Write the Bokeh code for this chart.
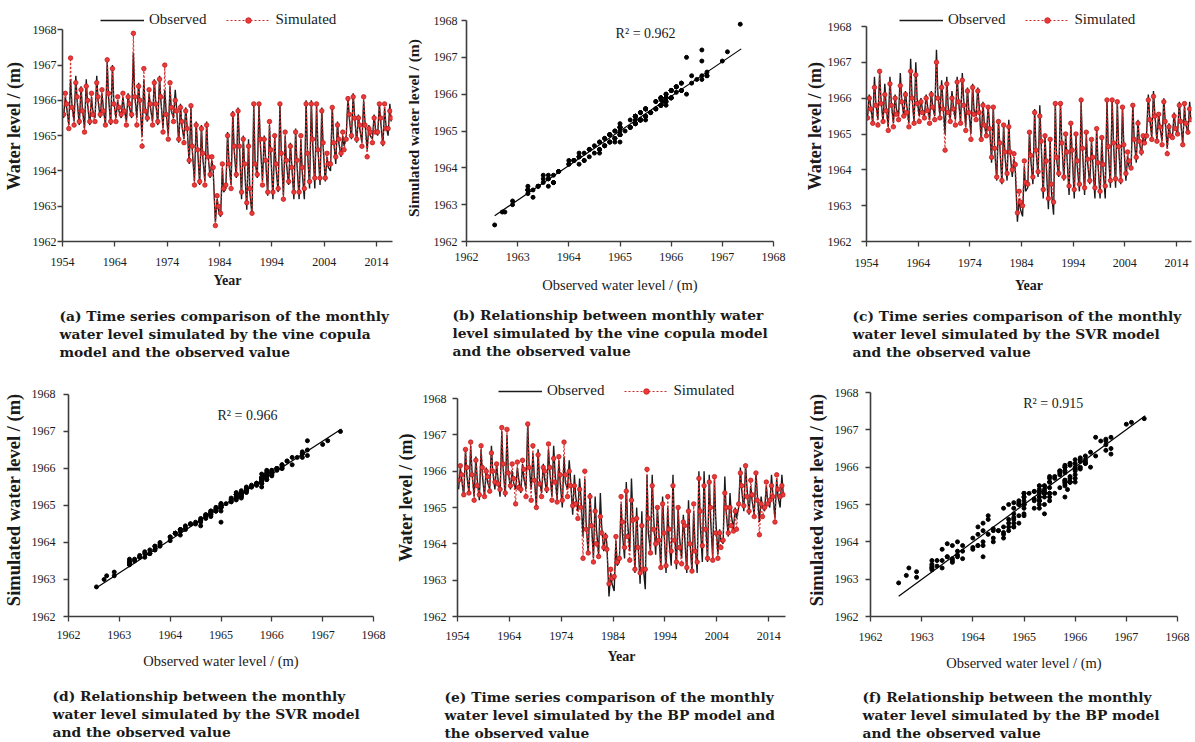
from bokeh.plotting import figure
from bokeh.layouts import row, column
from bokeh.models import Range1d, FixedTicker, Title, Label, Legend, LegendItem, ColumnDataSource
from bokeh.embed import file_html
from bokeh.resources import INLINE

# ---------------- data ----------------
years = list(range(1954, 2017))
sample_months = [3, 7, 10]          # low-water, high-water, late-season sample of each year

obs_low = [1965.5, 1965.3, 1965.4, 1965.3, 1965.2, 1965.3, 1965.5, 1965.5, 1965.3, 1965.3,
           1965.5, 1965.5, 1965.4, 1965.5, 1965.5, 1965.0, 1965.4, 1965.4, 1965.3, 1965.2,
           1965.0, 1965.5, 1964.8, 1964.9, 1964.2, 1963.7, 1963.6, 1963.7, 1963.8, 1962.55,
           1962.7, 1963.5, 1963.6, 1963.8, 1963.2, 1962.9, 1962.75, 1963.8, 1963.7, 1963.3,
           1963.2, 1963.4, 1963.3, 1963.6, 1963.2, 1963.2, 1963.2, 1963.5, 1963.5, 1963.6,
           1963.7, 1964.0, 1964.2, 1964.4, 1965.0, 1964.9, 1964.8, 1964.8, 1964.6, 1964.9,
           1965.0, 1964.7, 1965.0]
obs_high = [1966.1, 1966.6, 1966.7, 1966.4, 1966.6, 1966.1, 1966.7, 1966.2, 1967.1, 1967.0,
            1966.0, 1966.1, 1966.2, 1967.35, 1966.5, 1966.6, 1966.2, 1966.6, 1966.7, 1966.3,
            1966.4, 1966.3, 1965.9, 1965.8, 1965.8, 1965.4, 1965.3, 1965.4, 1964.3, 1963.2,
            1964.1, 1965.1, 1965.7, 1965.8, 1965.0, 1964.9, 1965.9, 1965.9, 1965.0, 1965.3,
            1965.0, 1965.9, 1965.0, 1964.8, 1965.2, 1964.9, 1966.0, 1966.0, 1965.9, 1965.8,
            1964.4, 1965.85, 1965.4, 1965.0, 1966.1, 1966.2, 1965.6, 1966.0, 1965.3, 1965.6,
            1965.9, 1965.8, 1965.9]
obs_mid = [1965.8, 1965.9, 1966.0, 1965.8, 1965.9, 1965.7, 1966.0, 1965.8, 1966.1, 1966.0,
           1965.7, 1965.8, 1965.8, 1966.2, 1965.9, 1965.8, 1965.8, 1966.0, 1966.0, 1965.7,
           1965.7, 1965.8, 1965.3, 1965.3, 1964.6, 1964.7, 1964.4, 1964.5, 1964.0, 1962.9,
           1963.4, 1964.3, 1964.6, 1964.8, 1964.1, 1963.4, 1964.3, 1964.8, 1964.4, 1964.5,
           1964.1, 1964.6, 1964.2, 1964.2, 1964.2, 1964.0, 1964.6, 1964.8, 1964.7, 1964.7,
           1964.1, 1964.9, 1964.8, 1964.7, 1965.5, 1965.6, 1965.2, 1965.4, 1965.0, 1965.2,
           1965.4, 1965.3, 1965.4]

vine_low = [1965.6, 1965.2, 1965.3, 1965.4, 1965.1, 1965.4, 1965.4, 1965.6, 1965.3, 1965.4,
            1965.4, 1965.6, 1965.3, 1965.6, 1965.3, 1964.7, 1965.5, 1965.3, 1965.4, 1965.1,
            1964.9, 1965.4, 1964.9, 1964.8, 1964.3, 1963.6, 1963.7, 1963.6, 1963.9, 1962.45,
            1962.8, 1963.6, 1963.5, 1963.9, 1963.4, 1963.1, 1962.8, 1963.9, 1963.6, 1963.4,
            1963.4, 1963.5, 1963.2, 1963.7, 1963.4, 1963.4, 1963.5, 1963.7, 1963.8, 1963.8,
            1963.8, 1964.2, 1964.4, 1964.5, 1964.9, 1965.0, 1964.9, 1964.7, 1964.4, 1964.8,
            1965.1, 1964.8, 1965.2]
vine_high = [1966.2, 1967.2, 1966.5, 1966.3, 1966.4, 1966.2, 1966.5, 1966.3, 1967.15, 1966.9,
             1966.1, 1966.2, 1966.1, 1967.9, 1966.4, 1966.9, 1966.3, 1966.5, 1966.6, 1967.0,
             1966.5, 1966.0, 1965.8, 1965.7, 1965.85, 1965.3, 1965.2, 1965.3, 1964.4, 1963.3,
             1964.2, 1965.0, 1965.6, 1965.7, 1964.9, 1964.7, 1965.9, 1965.9, 1964.9, 1965.4,
             1965.0, 1965.9, 1965.1, 1964.7, 1965.1, 1965.0, 1965.9, 1965.9, 1965.9, 1965.7,
             1964.5, 1965.8, 1965.3, 1965.1, 1966.05, 1966.1, 1965.5, 1966.1, 1965.2, 1965.5,
             1965.9, 1965.9, 1965.7]
vine_mid = [1965.9, 1965.8, 1966.1, 1965.7, 1966.0, 1965.6, 1966.1, 1965.7, 1966.2, 1965.9,
            1965.8, 1965.7, 1965.9, 1966.1, 1966.0, 1965.7, 1965.9, 1965.9, 1966.1, 1965.6,
            1965.8, 1965.7, 1965.4, 1965.2, 1964.7, 1964.6, 1964.5, 1964.4, 1964.1, 1963.0,
            1963.5, 1964.2, 1964.7, 1964.7, 1964.2, 1963.5, 1964.2, 1964.9, 1964.3, 1964.6,
            1964.2, 1964.5, 1964.3, 1964.1, 1964.3, 1964.1, 1964.5, 1964.9, 1964.6, 1964.8,
            1964.2, 1964.8, 1964.9, 1964.6, 1965.6, 1965.5, 1965.3, 1965.3, 1965.1, 1965.1,
            1965.5, 1965.2, 1965.5]

svr_low = [1965.45, 1965.3, 1965.25, 1965.35, 1965.1, 1965.2, 1965.4, 1965.5, 1965.2, 1965.3,
           1965.35, 1965.45, 1965.3, 1965.4, 1965.45, 1964.55, 1965.35, 1965.25, 1965.3, 1965.1,
           1964.85, 1965.4, 1964.85, 1964.95, 1964.35, 1963.8, 1963.7, 1963.9, 1964.0, 1962.8,
           1963.0, 1963.6, 1963.8, 1963.95, 1963.45, 1963.2, 1963.1, 1963.9, 1963.8, 1963.55,
           1963.45, 1963.6, 1963.5, 1963.7, 1963.5, 1963.4, 1963.55, 1963.7, 1963.75, 1963.7,
           1963.9, 1964.05, 1964.35, 1964.5, 1964.95, 1964.85, 1964.8, 1964.7, 1964.45, 1964.9,
           1965.0, 1964.7, 1965.05]
svr_high = [1966.0, 1966.3, 1966.75, 1966.1, 1966.4, 1966.0, 1966.35, 1966.1, 1966.75, 1966.65,
            1965.9, 1966.0, 1966.1, 1967.0, 1966.3, 1966.4, 1966.0, 1966.45, 1966.5, 1966.2,
            1966.3, 1966.2, 1965.8, 1965.75, 1965.75, 1965.35, 1965.25, 1965.2, 1964.45, 1963.4,
            1964.25, 1965.05, 1965.6, 1965.5, 1964.95, 1964.85, 1965.85, 1965.85, 1965.0, 1965.3,
            1965.0, 1965.95, 1965.05, 1964.85, 1965.15, 1964.9, 1965.95, 1965.95, 1965.9, 1965.75,
            1964.5, 1965.8, 1965.3, 1964.95, 1965.95, 1966.05, 1965.55, 1965.9, 1965.2, 1965.5,
            1965.8, 1965.85, 1965.7]
svr_mid = [1965.7, 1965.8, 1965.85, 1965.65, 1965.8, 1965.55, 1965.9, 1965.6, 1966.0, 1965.85,
           1965.6, 1965.65, 1965.75, 1966.0, 1965.7, 1965.6, 1965.7, 1965.9, 1965.8, 1965.6,
           1965.55, 1965.6, 1965.25, 1965.15, 1964.6, 1964.75, 1964.5, 1964.5, 1964.15, 1963.1,
           1963.65, 1964.4, 1964.55, 1964.8, 1964.25, 1963.6, 1964.35, 1964.75, 1964.5, 1964.55,
           1964.25, 1964.6, 1964.3, 1964.35, 1964.2, 1964.15, 1964.65, 1964.75, 1964.65, 1964.7,
           1964.25, 1964.85, 1964.8, 1964.75, 1965.4, 1965.5, 1965.2, 1965.35, 1964.95, 1965.15,
           1965.35, 1965.3, 1965.4]

bp_low = [1965.75, 1965.35, 1965.4, 1965.2, 1965.35, 1965.3, 1965.45, 1965.7, 1965.5, 1965.4,
          1965.6, 1965.1, 1965.5, 1965.3, 1965.2, 1965.0, 1965.3, 1965.5, 1965.2, 1965.15,
          1965.2, 1965.3, 1965.05, 1964.7, 1963.6, 1963.75, 1963.5, 1963.65, 1963.9, 1962.9,
          1963.1, 1963.6, 1963.9, 1963.55, 1963.3, 1963.2, 1963.3, 1963.75, 1964.0, 1963.35,
          1963.4, 1963.8, 1963.5, 1963.45, 1963.35, 1963.25, 1963.5, 1963.95, 1963.6, 1963.55,
          1963.6, 1964.1, 1964.3, 1964.35, 1965.1, 1965.05, 1964.9, 1964.75, 1964.25, 1965.0,
          1965.2, 1964.6, 1965.3]
bp_high = [1966.15, 1966.6, 1966.8, 1966.3, 1966.7, 1966.0, 1966.5, 1966.2, 1967.2, 1967.15,
           1966.2, 1966.25, 1966.3, 1967.3, 1966.7, 1966.45, 1966.1, 1966.75, 1966.35, 1966.4,
           1966.8, 1966.0, 1965.6, 1965.5, 1966.0, 1965.3, 1964.9, 1964.75, 1964.2, 1963.3,
           1964.2, 1965.3, 1965.45, 1965.2, 1964.7, 1964.5, 1966.05, 1965.6, 1965.0, 1965.1,
           1965.3, 1965.6, 1965.0, 1964.6, 1964.9, 1965.1, 1965.8, 1965.6, 1965.7, 1965.85,
           1964.3, 1965.4, 1965.0, 1964.9, 1965.95, 1966.15, 1965.75, 1965.95, 1965.1, 1965.7,
           1965.6, 1965.9, 1965.6]
bp_mid = [1965.9, 1966.1, 1965.9, 1965.6, 1966.1, 1965.85, 1966.0, 1965.65, 1966.2, 1965.95,
          1965.8, 1965.55, 1966.05, 1966.1, 1965.75, 1965.65, 1966.0, 1966.1, 1965.7, 1965.9,
          1965.9, 1965.6, 1965.1, 1965.0, 1964.4, 1964.5, 1964.0, 1964.3, 1963.85, 1963.05,
          1963.5, 1964.6, 1964.2, 1964.65, 1963.9, 1963.3, 1964.7, 1964.4, 1964.1, 1964.3,
          1964.4, 1964.1, 1963.9, 1964.5, 1964.0, 1963.8, 1964.9, 1964.4, 1965.0, 1964.3,
          1963.9, 1965.0, 1964.5, 1964.4, 1965.6, 1965.3, 1965.35, 1965.2, 1964.75, 1965.1,
          1965.3, 1965.5, 1965.35]

# fitted regression lines
trend_x = [1962.55, 1967.37]
vine_trend_y = [1962.70, 1967.23]
svr_trend_y = [1962.78, 1967.07]
bp_trend_y = [1962.54, 1967.38]

r2_labels = ["R\u00b2 = 0.962", "R\u00b2 = 0.966", "R\u00b2 = 0.915"]

year_ticks = [1954, 1964, 1974, 1984, 1994, 2004, 2014]
level_ticks = [1962, 1963, 1964, 1965, 1966, 1967, 1968]

captions = {
    "a": ["(a) Time series comparison of the monthly",
          "water level simulated by the vine copula",
          "model and the observed value"],
    "b": ["(b) Relationship between monthly water",
          "level simulated by the vine copula model",
          "and the observed value"],
    "c": ["(c) Time series comparison of the monthly",
          "water level simulated by the SVR model",
          "and the observed value"],
    "d": ["(d) Relationship between the monthly",
          "water level simulated by the SVR model",
          "and the observed value"],
    "e": ["(e) Time series comparison of the monthly",
          "water level simulated by the BP model and",
          "the observed value"],
    "f": ["(f) Relationship between the monthly",
          "water level simulated by the BP model",
          "and the observed value"],
}


def interleave(low, high, mid):
    out = []
    for a, b, c in zip(low, high, mid):
        out += [a, b, c]
    return out


t = [y + (m - 0.5) / 12.0 for y in years for m in sample_months]
obs = interleave(obs_low, obs_high, obs_mid)
vine = interleave(vine_low, vine_high, vine_mid)
svr = interleave(svr_low, svr_high, svr_mid)
bp = interleave(bp_low, bp_high, bp_mid)

SERIF = "Liberation Serif"
CAPF = "DejaVu Serif"
INK = "#1a1a1a"
AX = "#3c3c3c"
RED = "#d42a2a"


def base_fig(w, h, bl, br, bt, bb, xr, yr):
    p = figure(width=w, height=h, output_backend="svg", toolbar_location=None,
               x_range=Range1d(*xr), y_range=Range1d(*yr),
               min_border_left=bl, min_border_right=br, min_border_top=bt, min_border_bottom=bb)
    p.outline_line_color = None
    p.xgrid.visible = False
    p.ygrid.visible = False
    p.background_fill_color = "white"
    p.border_fill_color = "white"
    for ax in (p.xaxis[0], p.yaxis[0]):
        ax.axis_line_color = AX
        ax.axis_line_width = 1.6
        ax.major_tick_line_color = AX
        ax.major_tick_line_width = 1.3
        ax.major_tick_in = 0
        ax.major_tick_out = 5
        ax.minor_tick_line_color = None
        ax.major_label_text_font = SERIF
        ax.major_label_text_font_size = "12px"
        ax.major_label_text_color = INK
        ax.axis_label_text_font = SERIF
        ax.axis_label_text_color = INK
        ax.axis_label_text_font_style = "normal"
    p.yaxis[0].ticker = FixedTicker(ticks=level_ticks)
    p.yaxis[0].bounds = (1962, 1968)
    return p


def add_caption(p, key, offset, gap):
    # thin spacer, then the three caption lines
    p.add_layout(Title(text=" ", text_font_size="2px", standoff=gap), "below")
    for line in captions[key]:
        p.add_layout(Title(text=line, align="left", offset=offset, text_font=CAPF,
                           text_font_size="13.8px", text_font_style="bold", text_color=INK,
                           standoff=0), "below")


def set_axes(p, ylab_size, yst, ylst, xst, xlst):
    p.yaxis[0].axis_label_text_font_size = ylab_size
    p.yaxis[0].axis_label_text_font_style = "bold"
    p.yaxis[0].major_label_standoff = yst
    p.yaxis[0].axis_label_standoff = ylst
    p.xaxis[0].major_label_standoff = xst
    p.xaxis[0].axis_label_standoff = xlst


def ts_panel(sim, key, w, h, bl, br, bt, bb, xend, yend, yst, ylst, xst, xlst,
             leg_loc, cap_off, cap_gap):
    p = base_fig(w, h, bl, br, bt, bb, (1954, xend), (1962, yend))
    p.xaxis[0].ticker = FixedTicker(ticks=year_ticks)
    p.xaxis[0].bounds = (1954, xend)
    p.xaxis[0].axis_label = "Year"
    p.xaxis[0].axis_label_text_font_style = "bold"
    p.xaxis[0].axis_label_text_font_size = "14px"
    p.yaxis[0].axis_label = "Water level / (m)"
    set_axes(p, "18px", yst, ylst, xst, xlst)
    src = ColumnDataSource(dict(t=t, obs=obs, sim=sim))
    r_obs = p.line("t", "obs", source=src, line_color=INK, line_width=1.4)
    r_sim = p.line("t", "sim", source=src, line_color=RED, line_width=1.1, line_dash="2 2")
    r_pts = p.scatter("t", "sim", source=src, size=4.5, fill_color="#ec3a3a", line_color="#c01c1c",
                      line_width=0.8)
    leg = Legend(items=[LegendItem(label="Observed", renderers=[r_obs]),
                        LegendItem(label="Simulated", renderers=[r_sim, r_pts])],
                 location=leg_loc, orientation="horizontal", border_line_color=None,
                 background_fill_alpha=0, label_text_font=SERIF, label_text_font_size="15px",
                 label_text_color=INK, glyph_width=44, glyph_height=14, label_standoff=5,
                 spacing=20, padding=1, margin=0, label_height=16)
    p.add_layout(leg)
    add_caption(p, key, cap_off, cap_gap)
    return p


def sc_panel(sim, trend_y, r2, key, w, h, bl, br, bt, bb, yend, ylab_size, yst, ylst, xst, xlst,
             r2_pos, cap_off, cap_gap):
    p = base_fig(w, h, bl, br, bt, bb, (1962, 1968), (1962, yend))
    p.xaxis[0].ticker = FixedTicker(ticks=level_ticks)
    p.xaxis[0].bounds = (1962, 1968)
    p.xaxis[0].axis_label = "Observed water level / (m)"
    p.xaxis[0].axis_label_text_font_size = "14.5px"
    p.yaxis[0].axis_label = "Simulated water level /  (m)"
    set_axes(p, ylab_size, yst, ylst, xst, xlst)
    p.scatter(obs, sim, size=4, fill_color="black", line_color="black")
    p.line(trend_x, trend_y, line_color="black", line_width=1.2)
    p.add_layout(Label(x=r2_pos[0], y=r2_pos[1], text=r2, text_font=SERIF, text_font_size="14px",
                       text_color=INK, text_align="center", text_baseline="middle"))
    add_caption(p, key, cap_off, cap_gap)
    return p


H1, H2 = 362, 378
T1, B1 = 10, 121
T2, B2 = 16, 124

pa = ts_panel(vine, "a", 400, H1, 61, 8, T1, B1, 2017.05, 1968.547, 1, 6, 11, 4,
              (38, 213), -3, 11)
pb = sc_panel(vine, vine_trend_y, r2_labels[0], "b", 390, H1, 66, 17, T1, B1, 1968.272,
              "15.5px", 4, 9, 6, 13, (1965.5, 1967.64), -14, 5)
pc = ts_panel(svr, "c", 403, H1, 76, 2, T1, B1, 2016.9, 1968.447, 10, 0, 12, 8,
              (33, 213), -14, 6)
pd = sc_panel(svr, svr_trend_y, r2_labels[1], "d", 392, H2, 68, 19, T2, B2, 1968.432,
              "18.5px", 8, 5, 9, 11, (1965.52, 1967.43), -16, 10)
pe = ts_panel(bp, "e", 408, H2, 61, 15, T2, B2, 2017.24, 1968.551, 6, 4, 10, 6,
              (41, 217), -13, 16)
pf = sc_panel(bp, bp_trend_y, r2_labels[2], "f", 393, H2, 70, 16, T2, B2, 1968.375,
              "18.5px", 7, 5, 11, 11, (1965.57, 1967.7), -8, 9)

layout = column(row(pa, pb, pc), row(pd, pe, pf))
open("out.html", "w").write(file_html(layout, INLINE))
